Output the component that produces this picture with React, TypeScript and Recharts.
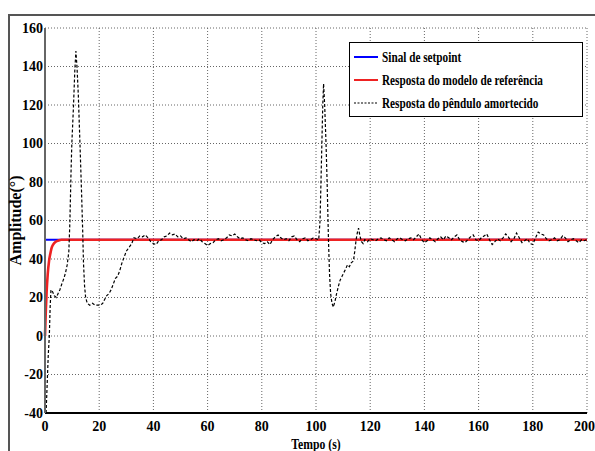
import React from 'react';
import { LineChart, Line, XAxis, YAxis, CartesianGrid, Legend } from 'recharts';

// tick labels
const xTicks = [0, 20, 40, 60, 80, 100, 120, 140, 160, 180, 200];
const yTicks = [-40, -20, 0, 20, 40, 60, 80, 100, 120, 140, 160];

// series names
const seriesNames = [
  'Sinal de setpoint',
  'Resposta do modelo de referência',
  'Resposta do pêndulo amortecido',
];

// setpoint signal
const setpointTime = [0, 200];
const setpointValue = [50, 50];

// reference model response
const referenceTime = [0, 0.3, 0.6, 1, 1.5, 2, 2.5, 3, 4, 5, 6, 8, 200];
const referenceValue = [0, 13, 23, 32, 39, 43, 46, 47.5, 49, 49.6, 50, 50, 50];

// damped pendulum response in pieces [t, value]
const firstPeak: [number, number][] = [
  [0.4, -40], [0.8, -25], [1.2, -10], [1.6, 0], [1.9, 15], [2.2, 24], [2.8, 23],
  [3.4, 21], [4.2, 20], [4.8, 22], [5.5, 24], [6.2, 27], [7.0, 30], [7.6, 33],
  [8.2, 37], [8.8, 44], [9.2, 60], [9.6, 85], [9.9, 100], [10.5, 119], [11.0, 138],
  [11.4, 148], [11.8, 140], [12.3, 125], [12.9, 100], [13.5, 74], [13.9, 55],
  [14.2, 38], [14.6, 26], [15.0, 20], [15.6, 17], [16.5, 16], [17.5, 17], [18.5, 16],
  [19.5, 16], [20.5, 16], [21.3, 17], [22.0, 19], [22.8, 21], [23.6, 22], [24.4, 24],
  [25.2, 27], [26.0, 30], [26.8, 31], [27.6, 34], [28.4, 38], [29.2, 41], [30.0, 44],
  [31.0, 46], [32.0, 48], [32.8, 51],
];

const firstSettle: [number, number][] = [
  [33, 51], [34, 50.5], [35, 52], [36, 51.5], [37, 52.5], [38, 51], [39, 49], [40, 48],
  [41, 47.5], [42, 49.5], [43, 50], [44, 51.5], [45, 52], [46, 53.5], [47, 52.5],
  [48, 53], [49, 51.5], [50, 52], [51, 50.5], [52, 51], [53, 50], [54, 49], [55, 50],
  [56, 49.5], [57, 50.5], [58, 49], [59, 48], [60, 47], [61, 48], [62, 48.5], [63, 50],
  [64, 50.5], [65, 49.5], [66, 50], [67, 51], [68, 52.5], [69, 52], [70, 53], [71, 51.5],
  [72, 50.5], [73, 51], [74, 50], [75, 49.5], [76, 50.5], [77, 50], [78, 49.5], [79, 50],
  [80, 48.5], [81, 48], [82, 49], [83, 47.5], [84, 50], [85, 51.5], [86, 52.5], [87, 51],
  [88, 50], [89, 50.5], [90, 49.5], [91, 51.5], [92, 52], [93, 50], [94, 49], [95, 50.5],
  [96, 51], [97, 49.5], [98, 50], [99, 51], [100, 50.5], [101, 50],
];

const secondPeak: [number, number][] = [
  [101.5, 60], [102, 90], [102.5, 120], [102.8, 131], [103.2, 120], [103.7, 100],
  [104.1, 80], [104.6, 50], [105.0, 32], [105.4, 22], [105.9, 17], [106.4, 15],
  [107.0, 18], [107.6, 22], [108.3, 26], [108.9, 29], [109.6, 31], [110.3, 33],
  [111.0, 35], [111.6, 37], [112.3, 36], [113.0, 38], [113.8, 39], [114.3, 44],
  [114.8, 50], [115.3, 54], [115.7, 56], [116.2, 52], [116.8, 49], [117.4, 48], [118, 50],
];

const secondSettle: [number, number][] = [
  [119, 49], [120, 50.5], [121, 50], [122, 49.5], [123, 50.5], [124, 51], [125, 50],
  [126, 49.5], [127, 51], [128, 50], [129, 49], [130, 50.5], [131, 51], [132, 50],
  [133, 49.5], [134, 50.5], [135, 51], [136, 50], [137, 51.5], [138, 53], [139, 50],
  [140, 48.5], [141, 49.5], [142, 51], [143, 50], [144, 49], [145, 50.5], [146, 51.5],
  [147, 50], [148, 52], [149, 51], [150, 50], [151, 51.5], [152, 52.5], [153, 50],
  [154, 49], [155, 48.5], [156, 50], [157, 51.5], [158, 52.5], [159, 50], [160, 49.5],
  [161, 51], [162, 52], [163, 53], [164, 50], [165, 47.5], [166, 49], [167, 50.5],
  [168, 49.5], [169, 51], [170, 53], [171, 51.5], [172, 49], [173, 50.5], [174, 53.5],
  [175, 51], [176, 48.5], [177, 49.5], [178, 50.5], [179, 48], [180, 47.5], [181, 51],
  [182, 54], [183, 53], [184, 52.5], [185, 50.5], [186, 49.5], [187, 50], [188, 51],
  [189, 49.5], [190, 50], [191, 52], [192, 51], [193, 49], [194, 50], [195, 50.5],
  [196, 49.5], [197, 48.5], [198, 50], [199, 49.5], [200, 50],
];

const zip = (ts: number[], vs: number[]) => ts.map((t, i) => ({ t, v: vs[i] }));
const setpointData = zip(setpointTime, setpointValue);
const referenceData = zip(referenceTime, referenceValue);
const dampedData = [...firstPeak, ...firstSettle, ...secondPeak, ...secondSettle].map(
  ([t, v]) => ({ t, v })
);

const FONT = '"Liberation Serif", "Times New Roman", serif';
const tickStyle = { fontFamily: FONT, fontWeight: 700, fontSize: 14, fill: '#000' };

// the original figure is squeezed horizontally, so its text looks condensed
const SQUEEZE = 0.75;

const LegendBox = ({ payload }: any) => {
  // keep the legend in series order, whatever order recharts hands it over in
  const items = [...(payload || [])].sort(
    (a: any, b: any) => seriesNames.indexOf(a.value) - seriesNames.indexOf(b.value)
  );
  return (
    <svg width={234} height={75} style={{ display: 'block' }}>
      <rect x={0.5} y={0.5} width={233} height={74} fill="#fff" stroke="#000" strokeWidth={1} />
      {items.map((entry: any, i: number) => {
        const y = 15 + i * 23;
        const dashed = seriesNames.indexOf(entry.value) === 2;
        return (
          <g key={entry.value}>
            <line
              x1={5}
              x2={29}
              y1={y}
              y2={y}
              stroke={entry.color}
              strokeWidth={dashed ? 1.2 : 2}
              strokeDasharray={dashed ? '2 1.5' : undefined}
            />
            <g transform={`translate(33, ${y + 5}) scale(${SQUEEZE}, 1)`}>
              <text x={0} y={0} fontFamily={FONT} fontWeight={700} fontSize={15} fill="#000">
                {entry.value}
              </text>
            </g>
          </g>
        );
      })}
    </svg>
  );
};

export default function App() {
  return (
    <div style={{ position: 'absolute', left: 0, top: 0, width: 595, height: 451, background: '#fff', overflow: 'hidden' }}>
      <div
        style={{
          position: 'absolute',
          left: 8,
          top: 14,
          width: 600,
          height: 500,
          borderTop: '2px solid #555',
          borderLeft: '2px solid #555',
        }}
      />
      <LineChart
        width={595}
        height={451}
        margin={{ top: 28, right: 8, bottom: 0, left: 0 }}
        style={{ position: 'absolute', left: 0, top: 0 }}
      >
        <CartesianGrid stroke="#666" strokeDasharray="1 2" strokeWidth={1} />
        <XAxis
          dataKey="t"
          type="number"
          domain={[0, 200]}
          ticks={xTicks}
          height={38}
          tick={tickStyle}
          tickLine={false}
          axisLine={{ stroke: '#000', strokeWidth: 2 }}
          label={(props: any) => {
            const vb = props.viewBox || { x: 45, y: 413, width: 541 };
            const cx = vb.x + vb.width / 2;
            return (
              <g transform={`translate(${cx}, ${vb.y + 36}) scale(${SQUEEZE + 0.03}, 1)`}>
                <text x={0} y={0} textAnchor="middle" fontFamily={FONT} fontWeight={700} fontSize={15} fill="#000">
                  Tempo (s)
                </text>
              </g>
            );
          }}
        />
        <YAxis
          type="number"
          domain={[-40, 160]}
          ticks={yTicks}
          width={45}
          tick={tickStyle}
          tickLine={false}
          tickSize={2}
          tickMargin={0}
          axisLine={{ stroke: '#666', strokeWidth: 2 }}
          label={(props: any) => {
            const vb = props.viewBox || { x: 0, y: 28, width: 45, height: 385 };
            const cy = vb.y + vb.height / 2;
            return (
              <text
                x={21}
                y={cy}
                transform={`rotate(-90, 21, ${cy})`}
                textAnchor="middle"
                fontFamily={FONT}
                fontWeight={700}
                fontSize={16}
                fill="#000"
              >
                Amplitude(°)
              </text>
            );
          }}
        />
        <Legend
          layout="vertical"
          align="center"
          verticalAlign="middle"
          wrapperStyle={{ position: 'absolute', left: 349, top: 42, width: 234, height: 75 }}
          content={LegendBox}
        />
        <Line
          data={setpointData}
          dataKey="v"
          name={seriesNames[0]}
          type="linear"
          stroke="#0000ff"
          strokeWidth={2}
          dot={false}
          isAnimationActive={false}
        />
        <Line
          data={referenceData}
          dataKey="v"
          name={seriesNames[1]}
          type="monotone"
          stroke="#ee2222"
          strokeWidth={2.6}
          dot={false}
          isAnimationActive={false}
        />
        <Line
          data={dampedData}
          dataKey="v"
          name={seriesNames[2]}
          type="linear"
          stroke="#000"
          strokeWidth={1.2}
          strokeDasharray="3 2"
          dot={false}
          isAnimationActive={false}
        />
      </LineChart>
    </div>
  );
}
